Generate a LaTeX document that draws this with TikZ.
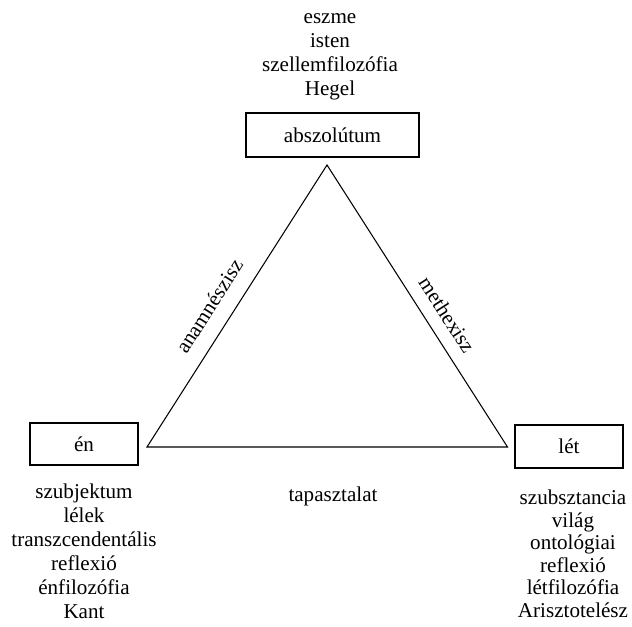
\documentclass[tikz,border=0pt]{standalone}
\usepackage{fontspec}
\setmainfont{Liberation Serif}
\begin{document}
\begin{tikzpicture}[line width=0.6pt,
  fogalom/.style={draw,inner sep=0pt,font=\fontsize{12}{13.7}\selectfont},
  lista/.style={align=center,inner sep=0pt,font=\fontsize{12}{13.7}\selectfont},
  el/.style={sloped,inner sep=0pt,font=\fontsize{12}{13.7}\selectfont}]
\useasboundingbox (0,0) rectangle (12.64,12.52);
\node[fogalom,minimum width=3.46cm,minimum height=0.88cm] (abszolutum) at (6.65,9.82) {abszolútum};
\node[fogalom,minimum width=2.16cm,minimum height=0.84cm] (en) at (1.68,3.64) {én};
\node[fogalom,minimum width=2.16cm,minimum height=0.86cm] (let) at (11.38,3.59) {lét};
\coordinate (csucs) at (6.54,9.22);
\coordinate (bal) at (2.94,3.58);
\coordinate (jobb) at (10.15,3.58);
\draw (bal) -- node[el,pos=0.455,above=0.31cm] {anamnészisz} (csucs)
  -- node[el,pos=0.57,above=0.25cm] {methexisz} (jobb) -- cycle;
\node[lista] (abszolutum-lista) at (6.6,11.38) {eszme\\isten\\szellemfilozófia\\Hegel};
\node[lista] (en-lista) at (1.68,1.5) {szubjektum\\lélek\\transzcendentális\\reflexió\\énfilozófia\\Kant};
\node[lista,font=\fontsize{12}{12.8}\selectfont] (let-lista) at (11.46,1.44) {szubsztancia\\világ\\ontológiai\\reflexió\\létfilozófia\\Arisztotelész};
\node[lista] (tapasztalat) at (6.66,2.6) {tapasztalat};
\end{tikzpicture}
\end{document}
